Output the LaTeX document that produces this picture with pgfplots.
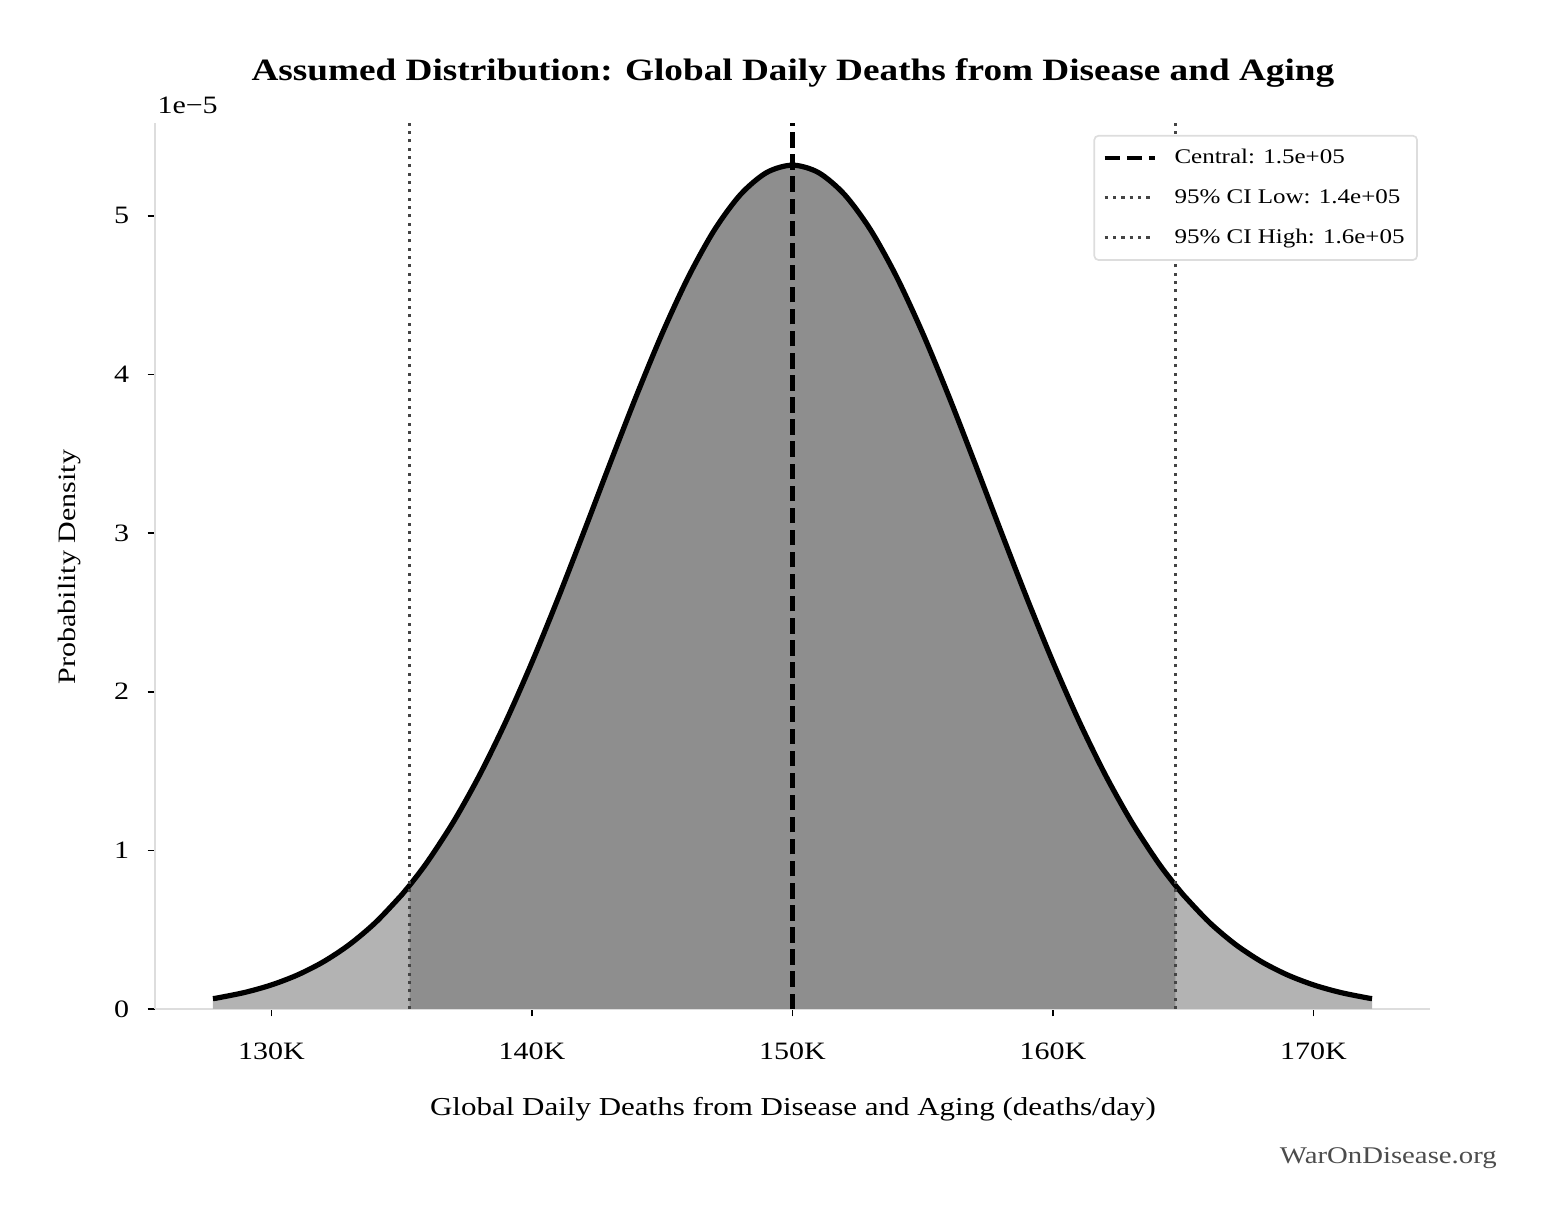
\documentclass[border=0pt]{standalone}
\usepackage{pgfplots}
\pgfplotsset{compat=1.18}
\usepackage{pgfplotstable}
\usepackage{fontspec}
\setmainfont{Liberation Serif}[FakeStretch=1.2]
\definecolor{lightfill}{HTML}{B3B3B3}
\definecolor{darkfill}{HTML}{8E8E8E}
\definecolor{cigray}{HTML}{444444}
\definecolor{spine}{HTML}{DDDDDD}
\pgfplotstableread{
x y
127750 0.06527
128000 0.07202
129000 0.10554
130000 0.15195
131000 0.21490
132000 0.29859
133000 0.40756
134000 0.54650
135000 0.71987
135300 0.77920
136000 0.93155
137000 1.1842
138000 1.4789
139000 1.8144
140000 2.1868
141000 2.5892
142000 3.0115
143000 3.4411
144000 3.8625
145000 4.2593
146000 4.6140
147000 4.9103
148000 5.1334
149000 5.2721
150000 5.3192
151000 5.2721
152000 5.1334
153000 4.9103
154000 4.6140
155000 4.2593
156000 3.8625
157000 3.4411
158000 3.0115
159000 2.5892
160000 2.1868
161000 1.8144
162000 1.4789
163000 1.1842
164000 0.93155
164700 0.77920
165000 0.71987
166000 0.54650
167000 0.40756
168000 0.29859
169000 0.21490
170000 0.15195
171000 0.10554
172000 0.07202
172250 0.06527
}\pdftable
\pgfplotstableread{
x y
135300 0.77920
136000 0.93155
137000 1.1842
138000 1.4789
139000 1.8144
140000 2.1868
141000 2.5892
142000 3.0115
143000 3.4411
144000 3.8625
145000 4.2593
146000 4.6140
147000 4.9103
148000 5.1334
149000 5.2721
150000 5.3192
151000 5.2721
152000 5.1334
153000 4.9103
154000 4.6140
155000 4.2593
156000 3.8625
157000 3.4411
158000 3.0115
159000 2.5892
160000 2.1868
161000 1.8144
162000 1.4789
163000 1.1842
164000 0.93155
164700 0.77920
}\citable
\begin{document}
\begin{tikzpicture}
\path[use as bounding box] (0,0) rectangle (746.4pt,590.4pt);
\begin{axis}[
  at={(74.4pt,106.08pt)}, anchor=south west,
  scale only axis, width=612pt, height=425.28pt,
  xmin=125525, xmax=174475, ymin=0, ymax=5.585,
  axis x line*=bottom, axis y line*=left,
  axis line style={spine, line width=0.8pt, -},
  tick align=outside, major tick length=3.5pt,
  tick style={black, line width=0.8pt},
  xtick={130000,140000,150000,160000,170000},
  xticklabels={130K,140K,150K,160K,170K},
  ytick={0,1,2,3,4,5},
  scaled ticks=false,
  /pgf/number format/assume math mode=true,
  ticklabel style={font=\fontsize{12}{14}\selectfont},
  xticklabel style={yshift=-9pt},
  yticklabel style={xshift=-5.4pt},
  legend style={at={(0.9905,0.9865)}, anchor=north east,
    draw=spine, line width=0.8pt, rounded corners=2pt,
    font=\fontsize{10}{12}\selectfont, row sep=6.8pt,
    column sep=6.5pt,
    inner xsep=4pt, inner ysep=4.5pt},
  legend cell align=left,
  legend image code/.code={\draw[#1] (0pt,0pt) -- (24pt,0pt);},
  clip=false,
]
\addplot[fill=lightfill, draw=none, forget plot] table[x=x,y=y]{\pdftable} \closedcycle;
\addplot[fill=darkfill, draw=none, forget plot] table[x=x,y=y]{\citable} \closedcycle;
\addplot[black, line width=2.5pt, smooth, forget plot] table[x=x,y=y]{\pdftable};
\addplot[black, line width=2pt, dash pattern=on 7.4pt off 3.2pt] coordinates {(150000,0) (150000,5.585)};
\addlegendentry{Central: 1.5e+05}
\addplot[cigray, line width=1.5pt, dash pattern=on 1.5pt off 2.5pt] coordinates {(135300,0) (135300,5.585)};
\addlegendentry{95\% CI Low: 1.4e+05}
\addplot[cigray, line width=1.5pt, dash pattern=on 1.5pt off 2.5pt] coordinates {(164700,0) (164700,5.585)};
\addlegendentry{95\% CI High: 1.6e+05}
\end{axis}
\node[font=\fontsize{14.9}{18}\selectfont\bfseries] at (380.6pt,555.3pt) {Assumed Distribution: Global Daily Deaths from Disease and Aging};
\node[anchor=west, font=\fontsize{12}{14}\selectfont, inner sep=0pt] at (75.4pt,540pt) {1e−5};
\node[font=\fontsize{12.4}{14}\selectfont] at (380.6pt,57.8pt) {Global Daily Deaths from Disease and Aging (deaths/day)};
\node[font=\fontsize{12}{14}\selectfont, rotate=90] at (33.6pt,318.2pt) {Probability Density};
\node[anchor=east, font=\fontsize{11.5}{13}\selectfont, text=black!70, inner sep=0pt] at (718.6pt,34.6pt) {WarOnDisease.org};
\end{tikzpicture}
\end{document}
